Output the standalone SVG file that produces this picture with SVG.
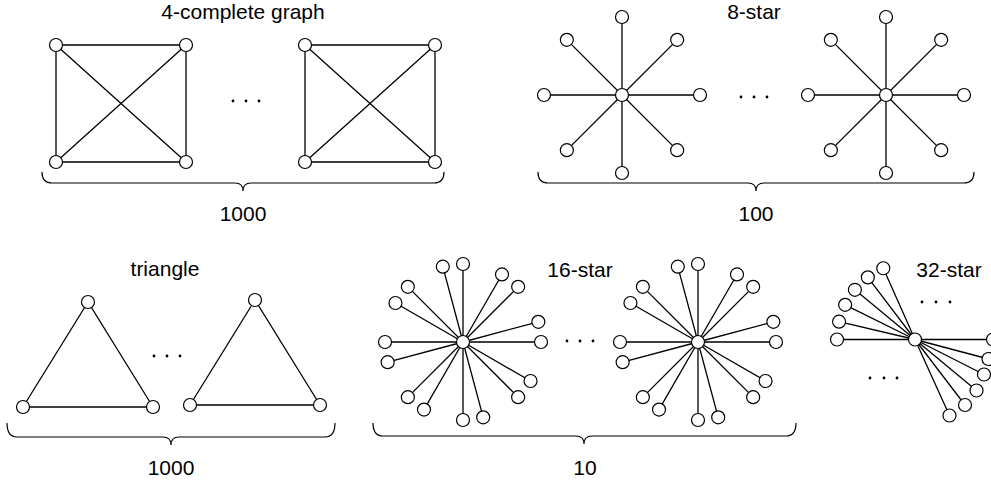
<svg xmlns="http://www.w3.org/2000/svg" width="991" height="483" viewBox="0 0 991 483">
<style>
.e{stroke:#000;stroke-width:1.3;fill:none}
.b{stroke:#000;stroke-width:1.2;fill:none}
.n{fill:#fff;stroke:#000;stroke-width:1.2}
.d{fill:#000}
.t{font-family:"Liberation Sans",Arial,Helvetica,sans-serif;font-size:21px;fill:#000;text-anchor:middle}
</style>
<rect width="991" height="483" fill="#fff"/>
<g id="connectors">
<path class="e" d="M56 45H186V162H56Z M56 45L186 162 M186 45L56 162"/>
<path class="e" d="M305 45H435V162H305Z M305 45L435 162 M435 45L305 162"/>
<path class="e" d="M622 95L700 95 M622 95L677.15 39.85 M622 95L622 17 M622 95L566.85 39.85 M622 95L544 95 M622 95L566.85 150.15 M622 95L622 173 M622 95L677.15 150.15"/>
<path class="e" d="M886 95L964 95 M886 95L941.15 39.85 M886 95L886 17 M886 95L830.85 39.85 M886 95L808 95 M886 95L830.85 150.15 M886 95L886 173 M886 95L941.15 150.15"/>
<path class="e" d="M88 302L23 407L153 407Z"/>
<path class="e" d="M255 300L190 405L320 405Z"/>
<path class="e" d="M463 342L541 342 M463 342L538.34 321.81 M463 342L518.15 286.85 M463 342L502 274.45 M463 342L463 264 M463 342L442.81 266.66 M463 342L407.85 286.85 M463 342L395.45 303 M463 342L385 342 M463 342L387.66 362.19 M463 342L407.85 397.15 M463 342L424 409.55 M463 342L463 420 M463 342L483.19 417.34 M463 342L518.15 397.15 M463 342L530.55 381"/>
<path class="e" d="M698 342L776 342 M698 342L773.34 321.81 M698 342L753.15 286.85 M698 342L737 274.45 M698 342L698 264 M698 342L677.81 266.66 M698 342L642.85 286.85 M698 342L630.45 303 M698 342L620 342 M698 342L622.66 362.19 M698 342L642.85 397.15 M698 342L659 409.55 M698 342L698 420 M698 342L718.19 417.34 M698 342L753.15 397.15 M698 342L765.55 381"/>
<path class="e" d="M915 339.5L837 339.5 M915 339.5L839.06 321.69 M915 339.5L845.14 304.82 M915 339.5L854.9 289.78 M915 339.5L867.84 277.37 M915 339.5L883.28 268.24 M915 339.5L993 339.5 M915 339.5L988.5 359 M915 339.5L984 374.5 M915 339.5L976.5 390.5 M915 339.5L965 405 M915 339.5L949.5 415.5"/>
<path class="b" d="M42 172Q42 183 52 183H235Q243 183 243 191Q243 183 251 183H434Q444 183 444 172"/>
<path class="b" d="M538 172Q538 183 548 183H748Q756 183 756 191Q756 183 764 183H964Q974 183 974 172"/>
<path class="b" d="M7 423Q7 437 17 437H163Q171 437 171 445Q171 437 179 437H325Q335 437 335 423"/>
<path class="b" d="M373 423Q373 436 383 436H576Q584 436 584 444Q584 436 592 436H786Q796 436 796 423"/>
</g>
<g id="k4a">
<g id="k4a-1"><circle class="n" cx="56" cy="45" r="6.5"/></g>
<g id="k4a-2"><circle class="n" cx="186" cy="45" r="6.5"/></g>
<g id="k4a-3"><circle class="n" cx="56" cy="162" r="6.5"/></g>
<g id="k4a-4"><circle class="n" cx="186" cy="162" r="6.5"/></g>
</g>
<g id="k4b">
<g id="k4b-1"><circle class="n" cx="305" cy="45" r="6.5"/></g>
<g id="k4b-2"><circle class="n" cx="435" cy="45" r="6.5"/></g>
<g id="k4b-3"><circle class="n" cx="305" cy="162" r="6.5"/></g>
<g id="k4b-4"><circle class="n" cx="435" cy="162" r="6.5"/></g>
</g>
<g id="s8a">
<g id="s8a-c"><circle class="n" cx="622" cy="95" r="6.5"/></g>
<g id="s8a-1"><circle class="n" cx="700" cy="95" r="6.5"/></g>
<g id="s8a-2"><circle class="n" cx="677.15" cy="39.85" r="6.5"/></g>
<g id="s8a-3"><circle class="n" cx="622" cy="17" r="6.5"/></g>
<g id="s8a-4"><circle class="n" cx="566.85" cy="39.85" r="6.5"/></g>
<g id="s8a-5"><circle class="n" cx="544" cy="95" r="6.5"/></g>
<g id="s8a-6"><circle class="n" cx="566.85" cy="150.15" r="6.5"/></g>
<g id="s8a-7"><circle class="n" cx="622" cy="173" r="6.5"/></g>
<g id="s8a-8"><circle class="n" cx="677.15" cy="150.15" r="6.5"/></g>
</g>
<g id="s8b">
<g id="s8b-c"><circle class="n" cx="886" cy="95" r="6.5"/></g>
<g id="s8b-1"><circle class="n" cx="964" cy="95" r="6.5"/></g>
<g id="s8b-2"><circle class="n" cx="941.15" cy="39.85" r="6.5"/></g>
<g id="s8b-3"><circle class="n" cx="886" cy="17" r="6.5"/></g>
<g id="s8b-4"><circle class="n" cx="830.85" cy="39.85" r="6.5"/></g>
<g id="s8b-5"><circle class="n" cx="808" cy="95" r="6.5"/></g>
<g id="s8b-6"><circle class="n" cx="830.85" cy="150.15" r="6.5"/></g>
<g id="s8b-7"><circle class="n" cx="886" cy="173" r="6.5"/></g>
<g id="s8b-8"><circle class="n" cx="941.15" cy="150.15" r="6.5"/></g>
</g>
<g id="tria">
<g id="tria-1"><circle class="n" cx="88" cy="302" r="6.5"/></g>
<g id="tria-2"><circle class="n" cx="23" cy="407" r="6.5"/></g>
<g id="tria-3"><circle class="n" cx="153" cy="407" r="6.5"/></g>
</g>
<g id="trib">
<g id="trib-1"><circle class="n" cx="255" cy="300" r="6.5"/></g>
<g id="trib-2"><circle class="n" cx="190" cy="405" r="6.5"/></g>
<g id="trib-3"><circle class="n" cx="320" cy="405" r="6.5"/></g>
</g>
<g id="s16a">
<g id="s16a-c"><circle class="n" cx="463" cy="342" r="6.5"/></g>
<g id="s16a-1"><circle class="n" cx="541" cy="342" r="6.5"/></g>
<g id="s16a-2"><circle class="n" cx="538.34" cy="321.81" r="6.5"/></g>
<g id="s16a-3"><circle class="n" cx="518.15" cy="286.85" r="6.5"/></g>
<g id="s16a-4"><circle class="n" cx="502" cy="274.45" r="6.5"/></g>
<g id="s16a-5"><circle class="n" cx="463" cy="264" r="6.5"/></g>
<g id="s16a-6"><circle class="n" cx="442.81" cy="266.66" r="6.5"/></g>
<g id="s16a-7"><circle class="n" cx="407.85" cy="286.85" r="6.5"/></g>
<g id="s16a-8"><circle class="n" cx="395.45" cy="303" r="6.5"/></g>
<g id="s16a-9"><circle class="n" cx="385" cy="342" r="6.5"/></g>
<g id="s16a-10"><circle class="n" cx="387.66" cy="362.19" r="6.5"/></g>
<g id="s16a-11"><circle class="n" cx="407.85" cy="397.15" r="6.5"/></g>
<g id="s16a-12"><circle class="n" cx="424" cy="409.55" r="6.5"/></g>
<g id="s16a-13"><circle class="n" cx="463" cy="420" r="6.5"/></g>
<g id="s16a-14"><circle class="n" cx="483.19" cy="417.34" r="6.5"/></g>
<g id="s16a-15"><circle class="n" cx="518.15" cy="397.15" r="6.5"/></g>
<g id="s16a-16"><circle class="n" cx="530.55" cy="381" r="6.5"/></g>
</g>
<g id="s16b">
<g id="s16b-c"><circle class="n" cx="698" cy="342" r="6.5"/></g>
<g id="s16b-1"><circle class="n" cx="776" cy="342" r="6.5"/></g>
<g id="s16b-2"><circle class="n" cx="773.34" cy="321.81" r="6.5"/></g>
<g id="s16b-3"><circle class="n" cx="753.15" cy="286.85" r="6.5"/></g>
<g id="s16b-4"><circle class="n" cx="737" cy="274.45" r="6.5"/></g>
<g id="s16b-5"><circle class="n" cx="698" cy="264" r="6.5"/></g>
<g id="s16b-6"><circle class="n" cx="677.81" cy="266.66" r="6.5"/></g>
<g id="s16b-7"><circle class="n" cx="642.85" cy="286.85" r="6.5"/></g>
<g id="s16b-8"><circle class="n" cx="630.45" cy="303" r="6.5"/></g>
<g id="s16b-9"><circle class="n" cx="620" cy="342" r="6.5"/></g>
<g id="s16b-10"><circle class="n" cx="622.66" cy="362.19" r="6.5"/></g>
<g id="s16b-11"><circle class="n" cx="642.85" cy="397.15" r="6.5"/></g>
<g id="s16b-12"><circle class="n" cx="659" cy="409.55" r="6.5"/></g>
<g id="s16b-13"><circle class="n" cx="698" cy="420" r="6.5"/></g>
<g id="s16b-14"><circle class="n" cx="718.19" cy="417.34" r="6.5"/></g>
<g id="s16b-15"><circle class="n" cx="753.15" cy="397.15" r="6.5"/></g>
<g id="s16b-16"><circle class="n" cx="765.55" cy="381" r="6.5"/></g>
</g>
<g id="s32">
<g id="s32-c"><circle class="n" cx="915" cy="339.5" r="6.5"/></g>
<g id="s32-1"><circle class="n" cx="837" cy="339.5" r="6.5"/></g>
<g id="s32-2"><circle class="n" cx="839.06" cy="321.69" r="6.5"/></g>
<g id="s32-3"><circle class="n" cx="845.14" cy="304.82" r="6.5"/></g>
<g id="s32-4"><circle class="n" cx="854.9" cy="289.78" r="6.5"/></g>
<g id="s32-5"><circle class="n" cx="867.84" cy="277.37" r="6.5"/></g>
<g id="s32-6"><circle class="n" cx="883.28" cy="268.24" r="6.5"/></g>
<g id="s32-7"><circle class="n" cx="993" cy="339.5" r="6.5"/></g>
<g id="s32-8"><circle class="n" cx="988.5" cy="359" r="6.5"/></g>
<g id="s32-9"><circle class="n" cx="984" cy="374.5" r="6.5"/></g>
<g id="s32-10"><circle class="n" cx="976.5" cy="390.5" r="6.5"/></g>
<g id="s32-11"><circle class="n" cx="965" cy="405" r="6.5"/></g>
<g id="s32-12"><circle class="n" cx="949.5" cy="415.5" r="6.5"/></g>
</g>
<g id="ellipses">
<circle class="d" cx="233" cy="101" r="1.4"/><circle class="d" cx="246" cy="101" r="1.4"/><circle class="d" cx="259" cy="101" r="1.4"/>
<circle class="d" cx="741" cy="97" r="1.4"/><circle class="d" cx="754" cy="97" r="1.4"/><circle class="d" cx="767" cy="97" r="1.4"/>
<circle class="d" cx="154" cy="356" r="1.4"/><circle class="d" cx="167" cy="356" r="1.4"/><circle class="d" cx="180" cy="356" r="1.4"/>
<circle class="d" cx="567" cy="341" r="1.4"/><circle class="d" cx="580" cy="341" r="1.4"/><circle class="d" cx="593" cy="341" r="1.4"/>
<circle class="d" cx="922" cy="302" r="1.4"/><circle class="d" cx="936" cy="302" r="1.4"/><circle class="d" cx="950" cy="302" r="1.4"/>
<circle class="d" cx="870" cy="378" r="1.4"/><circle class="d" cx="884" cy="378" r="1.4"/><circle class="d" cx="897" cy="378" r="1.4"/>
</g>
<g id="labels">
<text class="t" x="243" y="18.5">4-complete graph</text>
<text class="t" x="754" y="18.5">8-star</text>
<text class="t" x="243" y="221">1000</text>
<text class="t" x="756" y="221">100</text>
<text class="t" x="165" y="276">triangle</text>
<text class="t" x="580" y="277">16-star</text>
<text class="t" x="949" y="277">32-star</text>
<text class="t" x="171" y="475">1000</text>
<text class="t" x="585" y="475">10</text>
</g>
</svg>
